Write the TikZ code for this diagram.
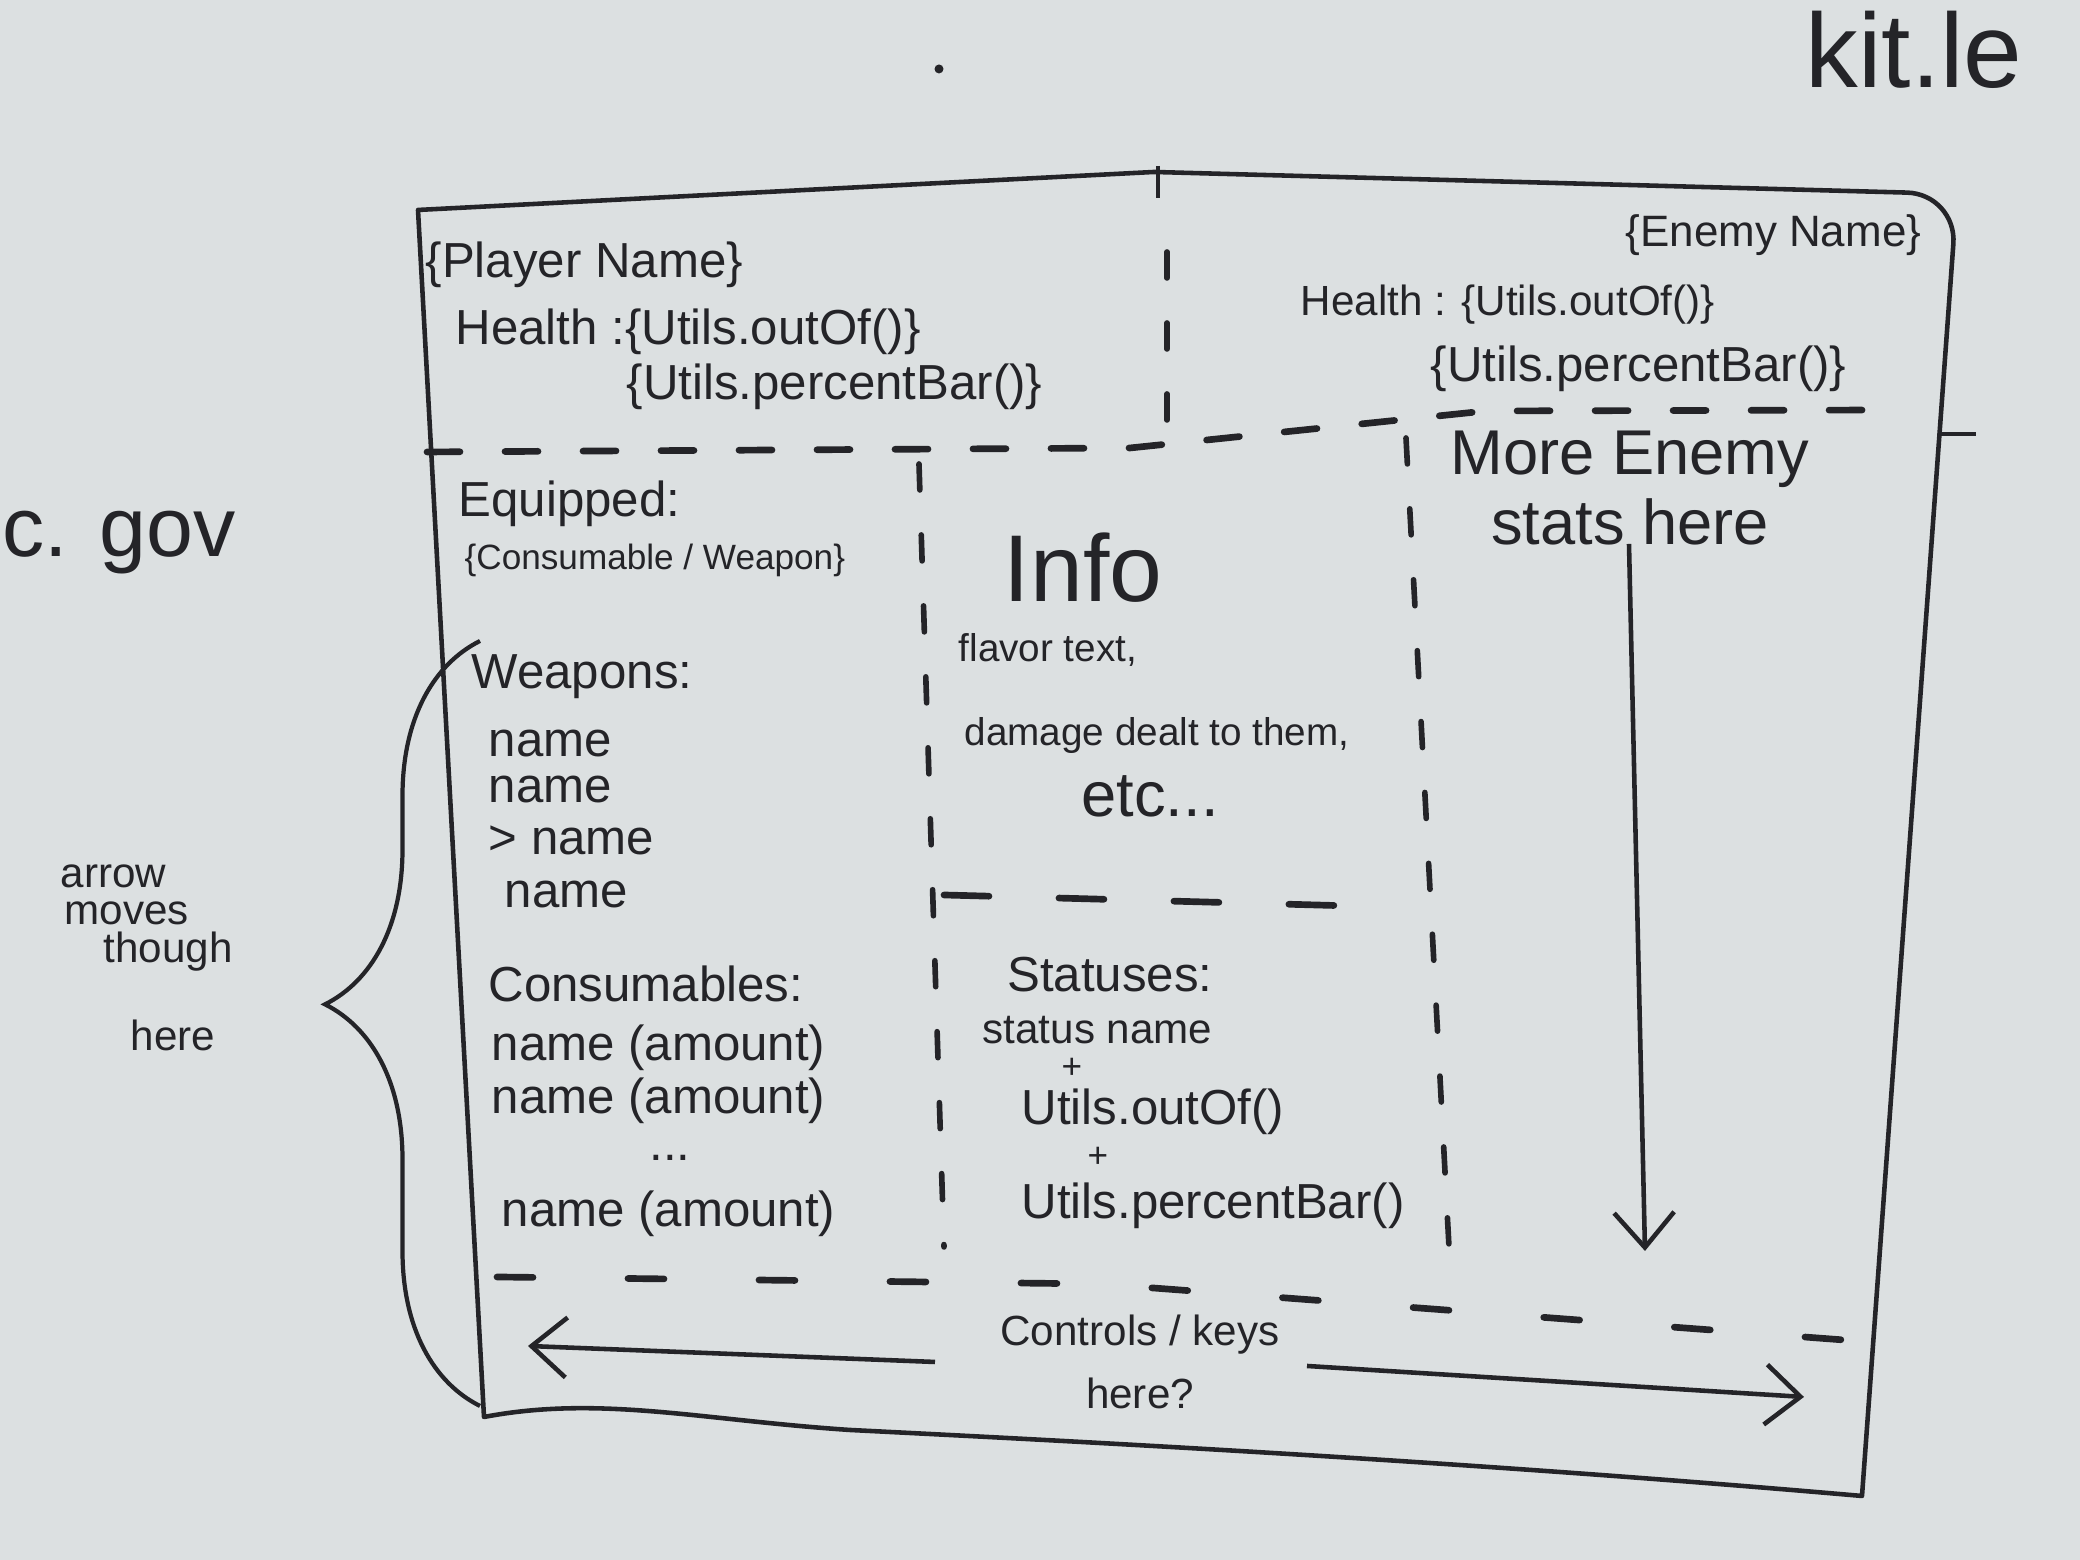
\documentclass[tikz,border=0pt]{standalone}
\usepackage{fontspec}
\setmainfont{Liberation Sans}
\usetikzlibrary{arrows.meta,positioning,decorations.pathreplacing}
\definecolor{UiInk}{RGB}{36,36,40}
\definecolor{UiBoard}{RGB}{220,224,225}
\tikzset{
  ui/frame/.style={draw=UiInk, line width=1.3pt, line join=round},
  ui/hdash/.style={draw=UiInk, line width=1.9pt, line cap=round, dash pattern=on 0.33cm off 0.45cm},
  ui/vdash/.style={draw=UiInk, line width=1.6pt, line cap=round, dash pattern=on 0.26cm off 0.45cm},
  ui/wdash/.style={draw=UiInk, line width=1.9pt, line cap=round, dash pattern=on 0.36cm off 0.95cm},
  ui/arrow/.style={-{Straight Barb[length=3.5mm,width=6mm]}, draw=UiInk, line width=1.3pt},
  ui/brace/.style={draw=UiInk, line width=1.2pt, decorate, decoration={brace, amplitude=1.55cm, aspect=0.525}},
  ui/label/.style={text=UiInk, inner sep=0pt, font=\fontsize{14}{17}\selectfont},
  ui/tiny/.style={ui/label, font=\fontsize{10}{12}\selectfont},
  ui/small/.style={ui/label, font=\fontsize{11}{13}\selectfont},
  ui/note/.style={ui/label, font=\fontsize{12}{18}\selectfont, align=center},
  ui/mid/.style={ui/label, font=\fontsize{18}{20}\selectfont, align=center},
  ui/big/.style={ui/label, font=\fontsize{27}{30}\selectfont},
  ui/board/.style={ui/label, font=\fontsize{24}{28}\selectfont}
}
\begin{document}
\begin{tikzpicture}[x=1cm,y=1cm]
  \fill[UiBoard] (0,0) rectangle (20.8,15.6);
  \useasboundingbox (0,0) rectangle (20.8,15.6);

  \draw[ui/frame] (4.18,13.50) -- (11.54,13.88) [rounded corners=0.5cm] -- (19.57,13.66) [sharp corners] -- (18.62,0.64)
    .. controls (14.5,1.0) and (10.5,1.2) .. (8.5,1.3) .. controls (7.0,1.4) and (6.0,1.65) .. (4.84,1.43) -- cycle;
  \draw[ui/frame] (11.58,13.94) -- (11.58,13.62);
  \draw[ui/frame] (19.40,11.26) -- (19.76,11.26);

  \draw[ui/hdash] (4.27,11.08) -- (11.3,11.12) -- (14.86,11.49) -- (19.0,11.5);
  \draw[ui/vdash] (11.67,13.08) -- (11.67,11.35);
  \draw[ui/vdash] (9.19,10.96) -- (9.44,3.13);
  \draw[ui/vdash] (14.06,11.22) -- (14.49,3.13);
  \draw[ui/hdash, dash pattern=on 0.45cm off 0.7cm] (9.44,6.65) -- (13.53,6.54);
  \draw[ui/wdash] (4.97,2.83) -- (11.0,2.76) -- (18.44,2.2);

  \node[ui/label, anchor=west] (pname) at (4.25,12.95) {\{Player Name\}};
  \node[ui/label, anchor=west] (phealth) at (4.55,12.28) {Health :\{Utils.outOf()\}};
  \node[ui/label, anchor=west] (pbar) at (6.26,11.73) {\{Utils.percentBar()\}};

  \node[ui/label, anchor=west, font=\fontsize{12.5}{15}\selectfont] (ename) at (16.25,13.25) {\{Enemy Name\}};
  \node[ui/note, anchor=west] (ehealth) at (13.0,12.55) {Health : \{Utils.outOf()\}};
  \node[ui/label, anchor=west] (ebar) at (14.3,11.91) {\{Utils.percentBar()\}};
  \node[ui/mid] (estats) at (16.3,10.72) {More Enemy\\stats here};

  \node[ui/label, anchor=west] (equip) at (4.58,10.56) {Equipped:};
  \node[ui/tiny, anchor=west] (equipitem) at (4.64,10.0) {\{Consumable / Weapon\}};
  \node[ui/label, anchor=west] (weapons) at (4.71,8.83) {Weapons:};
  \node[ui/label, anchor=west] (wname1) at (4.88,8.16) {name};
  \node[ui/label, anchor=west] (wname2) at (4.88,7.70) {name};
  \node[ui/label, anchor=west] (wname3) at (4.88,7.20) {> name};
  \node[ui/label, anchor=west] (wname4) at (5.04,6.65) {name};
  \node[ui/label, anchor=west] (consum) at (4.88,5.76) {Consumables:};
  \node[ui/label, anchor=west] (cname1) at (4.91,5.12) {name (amount)};
  \node[ui/label, anchor=west] (cname2) at (4.91,4.59) {name (amount)};
  \node[ui/label] (cdots) at (6.7,4.02) {...};
  \node[ui/label, anchor=west] (cname3) at (5.01,3.46) {name (amount)};

  \node[ui/big] (info) at (10.83,9.92) {Info};
  \node[ui/small, anchor=west] (flavor) at (9.58,9.10) {flavor text,};
  \node[ui/small, anchor=west] (damage) at (9.64,8.24) {damage dealt to them,};
  \node[ui/mid] (etc) at (11.5,7.64) {etc...};

  \node[ui/label] (statuses) at (11.1,5.85) {Statuses:};
  \node[ui/note, anchor=west] (sname) at (9.82,5.30) {status name};
  \node[ui/tiny] (plus1) at (10.72,4.92) {+};
  \node[ui/label, anchor=west] (soutof) at (10.21,4.48) {Utils.outOf()};
  \node[ui/tiny] (plus2) at (10.98,4.03) {+};
  \node[ui/label, anchor=west] (sbar) at (10.21,3.54) {Utils.percentBar()};

  \node[ui/note] (keys) at (11.4,1.98) {Controls / keys\\here?};
  \coordinate (prevstart) at (9.35,1.98);
  \coordinate (prevtip) at (5.28,2.14);
  \coordinate (nextstart) at (13.07,1.94);
  \coordinate (nexttip) at (18.04,1.63);
  \draw[ui/arrow] (prevstart) -- (prevtip);
  \draw[ui/arrow] (nextstart) -- (nexttip);

  \coordinate (scrolltop) at (16.29,10.16);
  \coordinate (scrollend) at (16.45,3.09);
  \draw[ui/arrow] (scrolltop) -- (scrollend);

  \coordinate (bracebot) at (4.80,1.54);
  \coordinate (bracetop) at (4.80,9.19);
  \draw[ui/brace] (bracebot) -- (bracetop);
  \node[ui/note, anchor=west] (mv1) at (0.60,6.84) {arrow};
  \node[ui/note, anchor=west] (mv2) at (0.64,6.47) {moves};
  \node[ui/note, anchor=west] (mv3) at (1.03,6.08) {though};
  \node[ui/note, anchor=west] (mv4) at (1.30,5.25) {here};

  \node[ui/board, anchor=base west] (cgov) at (0.02,10.03) {c. gov};
  \node[ui/board, anchor=base west, font=\fontsize{30}{34}\selectfont] (kitle) at (18.05,14.72) {kit.le};
  \fill[UiInk] (9.39,14.91) circle (0.045);
\end{tikzpicture}
\end{document}
